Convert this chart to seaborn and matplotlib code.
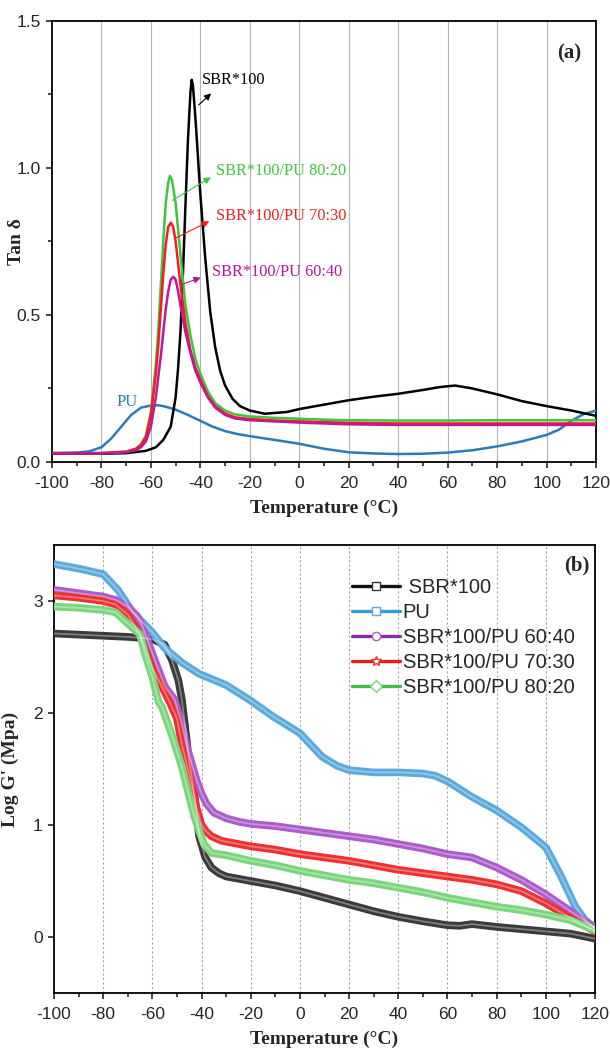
import numpy as np
import pandas as pd
import matplotlib
matplotlib.use("Agg")
import matplotlib.pyplot as plt
from matplotlib.lines import Line2D
import seaborn as sns
from matplotlib.ticker import MultipleLocator

# ---------------- data: panel (a) tan delta ----------------
t_sbr = [-100, -80, -70, -62, -58, -55, -52, -50, -49, -48, -47, -46, -45, -44, -43.5, -43, -42, -41, -40, -38, -36,
         -34, -32, -30, -27, -24, -20, -14, -5, 0, 10, 20, 30, 40, 50, 57, 63, 70, 80, 90, 100, 110, 120]
tan_sbr = [0.028, 0.028, 0.03, 0.038, 0.05, 0.075, 0.12, 0.22, 0.32, 0.45, 0.65, 0.88, 1.10, 1.26, 1.30, 1.28, 1.17,
           1.04, 0.91, 0.69, 0.51, 0.39, 0.31, 0.26, 0.215, 0.19, 0.175, 0.164, 0.17, 0.18, 0.195, 0.21, 0.222, 0.232,
           0.245, 0.255, 0.26, 0.25, 0.23, 0.207, 0.19, 0.175, 0.157]

t_pu = [-100, -90, -85, -80, -76, -72, -68, -64, -60, -57, -54, -50, -45, -40, -35, -30, -25, -20, -10, 0, 10, 20, 30,
        40, 50, 60, 70, 80, 90, 100, 105, 110, 115, 120]
tan_pu = [0.03, 0.032, 0.036, 0.05, 0.08, 0.12, 0.16, 0.185, 0.192, 0.193, 0.188, 0.178, 0.16, 0.14, 0.12, 0.105,
          0.095, 0.088, 0.075, 0.062, 0.045, 0.033, 0.029, 0.027, 0.028, 0.032, 0.04, 0.053, 0.07, 0.092, 0.11, 0.14,
          0.163, 0.175]

t_b80 = [-100, -80, -70, -66, -64, -62, -60, -58, -57, -56, -55, -54, -53, -52.3, -51.5, -50, -48, -46, -44, -42, -40,
         -37, -34, -30, -26, -20, -10, 0, 10, 20, 40, 60, 80, 100, 120]
tan_b80 = [0.03, 0.03, 0.035, 0.045, 0.06, 0.09, 0.17, 0.33, 0.45, 0.60, 0.75, 0.88, 0.95, 0.973, 0.96, 0.88, 0.70,
           0.53, 0.43, 0.35, 0.30, 0.24, 0.20, 0.175, 0.162, 0.155, 0.15, 0.147, 0.144, 0.142, 0.141, 0.141, 0.142,
           0.142, 0.142]

t_b70 = [-100, -80, -70, -66, -64, -62, -60, -58, -57, -56, -55, -54, -53, -51.9, -51, -50, -48, -46, -44, -42, -40,
         -37, -34, -30, -26, -20, -10, 0, 20, 40, 60, 80, 100, 120]
tan_b70 = [0.03, 0.03, 0.035, 0.045, 0.058, 0.085, 0.16, 0.30, 0.40, 0.52, 0.64, 0.74, 0.80, 0.814, 0.80, 0.75, 0.60,
           0.47, 0.38, 0.32, 0.28, 0.225, 0.19, 0.165, 0.152, 0.146, 0.141, 0.138, 0.133, 0.131, 0.131, 0.131, 0.131,
           0.131]

t_b60 = [-100, -80, -70, -66, -64, -62, -60, -58, -56, -55, -54, -53, -52, -50.9, -50, -49, -48, -46, -44, -42, -40,
         -37, -34, -30, -26, -20, -10, 0, 20, 40, 60, 80, 100, 120]
tan_b60 = [0.03, 0.03, 0.033, 0.04, 0.05, 0.07, 0.12, 0.22, 0.36, 0.44, 0.52, 0.58, 0.62, 0.63, 0.62, 0.58, 0.53,
           0.44, 0.37, 0.31, 0.27, 0.22, 0.185, 0.16, 0.148, 0.142, 0.138, 0.134, 0.128, 0.126, 0.126, 0.126, 0.126,
           0.126]

# ---------------- data: panel (b) log G' ----------------
g_t_sbr = [-100, -90, -80, -70, -64, -60, -55, -52, -49.4, -48, -46.7, -45.3, -44, -42.6, -41, -38.5, -36, -33, -30,
           -25, -20, -10, 0, 10, 20, 30, 40, 50, 60, 65, 70, 80, 90, 100, 110, 120]
g_sbr = [2.71, 2.70, 2.69, 2.68, 2.67, 2.66, 2.61, 2.47, 2.29, 2.12, 1.88, 1.61, 1.43, 1.22, 0.90, 0.71, 0.62, 0.57,
         0.54, 0.52, 0.50, 0.46, 0.41, 0.35, 0.29, 0.23, 0.18, 0.14, 0.105, 0.10, 0.115, 0.09, 0.07, 0.05, 0.03,
         -0.015]

g_t_pu = [-100, -90, -80, -74, -68, -60, -55, -48, -41, -30, -20, -11, 0, 9, 15, 20, 30, 40, 50, 55, 60, 70, 80, 90,
          100, 106, 112, 116, 120]
g_pu = [3.33, 3.29, 3.24, 3.10, 2.90, 2.72, 2.58, 2.45, 2.35, 2.25, 2.11, 1.97, 1.82, 1.61, 1.53, 1.49, 1.47, 1.47,
        1.46, 1.44, 1.39, 1.25, 1.13, 0.98, 0.80, 0.55, 0.27, 0.15, 0.08]

g_t_b60 = [-100, -90, -80, -75, -70, -66, -64, -59, -55, -51, -48, -46, -44, -42, -40, -38, -35, -30, -25, -20, -10,
           0, 10, 20, 30, 40, 50, 60, 70, 80, 90, 100, 110, 120]
g_b60 = [3.10, 3.07, 3.04, 3.01, 2.95, 2.86, 2.77, 2.47, 2.24, 2.12, 1.90, 1.70, 1.55, 1.40, 1.28, 1.19, 1.11, 1.06,
         1.03, 1.01, 0.99, 0.96, 0.93, 0.90, 0.87, 0.83, 0.79, 0.74, 0.71, 0.62, 0.51, 0.38, 0.23, 0.08]

g_t_b70 = [-100, -90, -80, -75, -70, -65, -60, -54.8, -52.8, -50, -48, -45, -42, -40, -38, -36, -32, -27.4, -20, -10,
           0, 10, 20, 30, 40, 50, 60, 70, 80, 90, 100, 110, 120]
g_b70 = [3.05, 3.03, 3.00, 2.97, 2.88, 2.70, 2.40, 2.18, 2.09, 1.95, 1.72, 1.45, 1.15, 1.00, 0.94, 0.90, 0.86, 0.84,
         0.81, 0.78, 0.74, 0.71, 0.68, 0.64, 0.60, 0.57, 0.54, 0.51, 0.47, 0.41, 0.30, 0.17, 0.05]

g_t_b80 = [-100, -90, -80, -75, -70, -65, -63, -60, -57.5, -56, -52, -48, -46, -43, -41, -39, -36, -30, -20, -10, 0,
           10, 20, 30, 40, 50, 60, 70, 80, 90, 100, 110, 120]
g_b80 = [2.95, 2.94, 2.92, 2.90, 2.80, 2.70, 2.53, 2.32, 2.10, 2.05, 1.80, 1.52, 1.34, 1.08, 0.95, 0.83, 0.75, 0.73,
         0.68, 0.64, 0.59, 0.55, 0.51, 0.48, 0.44, 0.40, 0.35, 0.31, 0.27, 0.24, 0.20, 0.15, 0.06]

x_ticks = [-100, -80, -60, -40, -20, 0, 20, 40, 60, 80, 100, 120]

# ---------------- style ----------------
sns.set_style("ticks")
plt.rcParams["font.family"] = ["Liberation Sans", "DejaVu Sans"]
plt.rcParams["xtick.direction"] = "out"
plt.rcParams["ytick.direction"] = "out"

SERIF = ["Liberation Serif", "DejaVu Serif"]

fig = plt.figure(figsize=(6.10, 10.49), dpi=100)
ax1 = fig.add_axes([0.0852, 0.5596, 0.892, 0.4204])
ax2 = fig.add_axes([0.0885, 0.0534, 0.887, 0.427])


def style_axis(ax, grid_ls, grid_color):
    ax.set_xlim(-100, 120)
    ax.set_xticks(x_ticks)
    ax.set_xticklabels([str(v) for v in x_ticks])
    ax.xaxis.set_minor_locator(MultipleLocator(10))
    ax.tick_params(axis="both", which="major", length=4, width=1.2, labelsize=12.5)
    ax.tick_params(axis="x", which="major", pad=6)
    ax.tick_params(axis="y", which="major", pad=4)
    ax.tick_params(axis="both", which="minor", length=3, width=1.2)
    for s in ax.spines.values():
        s.set_visible(True)
        s.set_linewidth(1.3)
        s.set_color("black")
    for v in x_ticks[1:-1]:
        ax.axvline(v, color=grid_color, lw=0.8, ls=grid_ls, zorder=0)


# ---------------- panel (a) ----------------
style_axis(ax1, "-", "#b4b4b4")
series_a = [
    (t_pu, tan_pu, "#2c7bb6"),
    (t_sbr, tan_sbr, "#000000"),
    (t_b80, tan_b80, "#3ec43e"),
    (t_b70, tan_b70, "#f41c1c"),
    (t_b60, tan_b60, "#c01896"),
]
for tx, ty, col in series_a:
    sns.lineplot(x=tx, y=ty, ax=ax1, color=col, lw=1.8, sort=False, zorder=3)

ax1.set_ylim(0, 1.5)
ax1.set_yticks([0.0, 0.5, 1.0, 1.5])
ax1.set_yticklabels(["0.0", "0.5", "1.0", "1.5"])
ax1.yaxis.set_minor_locator(MultipleLocator(0.25))
ax1.set_xlabel("Temperature (°C)", fontsize=14, fontweight="bold", family=SERIF, labelpad=6)
ax1.set_ylabel("Tan δ", fontsize=14, fontweight="bold", family=SERIF)
ax1.yaxis.set_label_coords(-0.05, 0.5)

ann = [
    ("SBR*100", "#000000", (-39.5, 1.30), (-41.5, 1.208), (-34.8, 1.26)),
    ("SBR*100/PU 80:20", "#3ec43e", (-33.8, 0.991), (-52.3, 0.885), (-34.8, 0.973)),
    ("SBR*100/PU 70:30", "#f41c1c", (-33.8, 0.838), (-51.6, 0.755), (-35.4, 0.823)),
    ("SBR*100/PU 60:40", "#b0189a", (-35.4, 0.647), (-48.2, 0.602), (-38.8, 0.630)),
]
for txt, col, tpos, tail, head in ann:
    ax1.text(tpos[0], tpos[1], txt, color=col, fontsize=11.7, family=SERIF, ha="left", va="center", zorder=5)
    ax1.annotate("", xy=head, xytext=tail,
                 arrowprops=dict(arrowstyle="-|>", color=col, lw=0.8, mutation_scale=10), zorder=5)
ax1.text(-74, 0.203, "PU", color="#2c7bb6", fontsize=12, family=SERIF, ha="left", va="center")
ax1.text(114, 1.39, "(a)", fontsize=15, fontweight="bold", family=SERIF, ha="right", va="center")

# ---------------- panel (b) ----------------
style_axis(ax2, (0, (2, 2)), "#a8a8a8")
series_b = [
    (" SBR*100", g_t_sbr, g_sbr, "#3a3a3a", "#111111", "s"),
    ("PU", g_t_pu, g_pu, "#5aaadd", "#3d9ad8", "s"),
    ("SBR*100/PU 60:40", g_t_b60, g_b60, "#ad5bcc", "#8e2aa8", "o"),
    ("SBR*100/PU 70:30", g_t_b70, g_b70, "#ee3030", "#e61e1e", "*"),
    ("SBR*100/PU 80:20", g_t_b80, g_b80, "#7ad67a", "#44bb44", "D"),
]
handles = []
for lab, tx, ty, band, legc, mk in series_b:
    sns.lineplot(x=tx, y=ty, ax=ax2, color=band, lw=5.5, sort=False, zorder=3,
                 solid_capstyle="round", solid_joinstyle="round")
    sns.lineplot(x=tx, y=ty, ax=ax2, color="white", lw=1.3, alpha=0.35, sort=False, zorder=3.1)
    handles.append(Line2D([0], [0], color=legc, lw=2.4, marker=mk, markersize=6 if mk != "*" else 7,
                          markerfacecolor="white", markeredgecolor=band, markeredgewidth=1.0, label=lab))

ax2.set_ylim(-0.5, 3.5)
ax2.set_yticks([0, 1, 2, 3])
ax2.set_yticklabels(["0", "1", "2", "3"])
ax2.set_xlabel("Temperature (°C)", fontsize=14, fontweight="bold", family=SERIF, labelpad=6)
ax2.set_ylabel("Log G' (Mpa)", fontsize=14, fontweight="bold", family=SERIF)
ax2.yaxis.set_label_coords(-0.064, 0.5)
ax2.text(117.6, 3.32, "(b)", fontsize=15, fontweight="bold", family=SERIF, ha="right", va="center")

leg = ax2.legend(handles=handles, loc="upper left", bbox_to_anchor=(0.535, 0.945), frameon=False, fontsize=14.5,
                 handlelength=2.4, handletextpad=0.15, labelspacing=0.3, borderaxespad=0.0)

fig.savefig("out.png", dpi=100)
